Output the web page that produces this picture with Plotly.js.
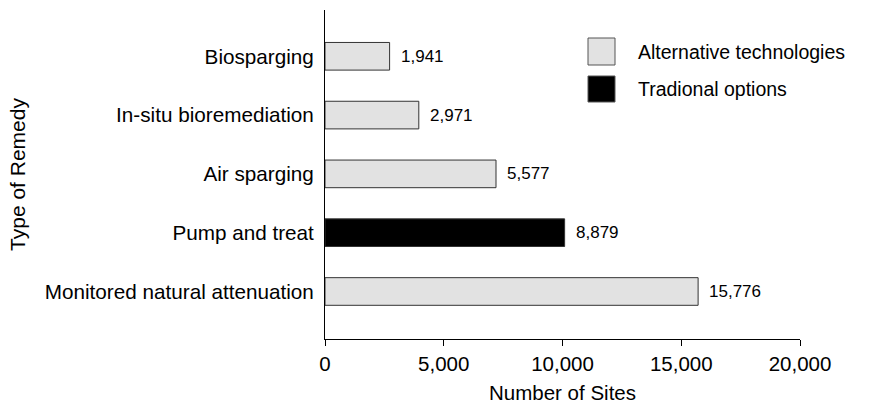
<!DOCTYPE html>
<html>
<head>
<meta charset="utf-8">
<script src="https://cdn.plot.ly/plotly-3.0.1.min.js"></script>
<style>
html,body{margin:0;padding:0;background:#fff;}
#chart{width:869px;height:404px;}
</style>
</head>
<body>
<div id="chart"></div>
<script>
// Categories, top to bottom as drawn
var remedies = ["Biosparging", "In-situ bioremediation", "Air sparging", "Pump and treat", "Monitored natural attenuation"];
// Bar lengths as drawn against the axis
var barLengths = [2720, 3950, 7200, 10090, 15710];
// Printed value labels
var valueLabels = ["1,941", "2,971", "5,577", "8,879", "15,776"];
// Group of each remedy
var groups = ["Alternative technologies", "Alternative technologies", "Alternative technologies", "Tradional options", "Alternative technologies"];
var groupNames = ["Alternative technologies", "Tradional options"];
var groupColors = {"Alternative technologies": "#e2e2e2", "Tradional options": "#000000"};
var xTicks = [0, 5000, 10000, 15000, 20000];
var xTickText = ["0", "5,000", "10,000", "15,000", "20,000"];

var FONT = "Liberation Sans, Arial, Helvetica, sans-serif";

var trace = {
  type: "bar",
  orientation: "h",
  x: barLengths,
  y: remedies,
  width: 0.47,
  marker: {
    color: groups.map(function(g){ return groupColors[g]; }),
    line: {color: "#333333", width: 1}
  },
  hoverinfo: "none",
  showlegend: false
};

var annotations = remedies.map(function(r, i){
  return {
    x: barLengths[i], y: r, xref: "x", yref: "y",
    text: valueLabels[i], showarrow: false,
    xanchor: "left", yanchor: "middle", xshift: 9,
    font: {family: FONT, size: 17, color: "#000"}
  };
});

// Legend drawn as boxes + text
var plotL = 325, plotR = 800, plotT = 10, plotB = 339;
function px2x(p){ return (p - plotL) / (plotR - plotL); }
function py2y(p){ return (plotB - p) / (plotB - plotT); }
var legendBoxes = [[38, 65], [76, 102]];
var shapes = [];
groupNames.forEach(function(g, i){
  shapes.push({
    type: "rect", xref: "paper", yref: "paper",
    x0: px2x(588), x1: px2x(615), y0: py2y(legendBoxes[i][1]), y1: py2y(legendBoxes[i][0]),
    fillcolor: groupColors[g], line: {color: "#555", width: 1}
  });
  annotations.push({
    xref: "paper", yref: "paper", x: px2x(636), y: py2y((legendBoxes[i][0] + legendBoxes[i][1]) / 2),
    text: g, showarrow: false, xanchor: "left", yanchor: "middle",
    font: {family: FONT, size: 19.5, color: "#000"}
  });
});

var layout = {
  width: 869, height: 404,
  margin: {l: plotL, r: 869 - plotR, t: plotT, b: 404 - plotB},
  paper_bgcolor: "#fff", plot_bgcolor: "#fff",
  font: {family: FONT, size: 20, color: "#000"},
  bargap: 0.5,
  xaxis: {
    range: [0, 20000],
    tickvals: xTicks, ticktext: xTickText,
    ticks: "outside", ticklen: 6, tickwidth: 1, tickcolor: "#000",
    showline: true, linecolor: "#000", linewidth: 1,
    showgrid: false, zeroline: false,
    tickfont: {family: FONT, size: 20.5, color: "#000"},
    title: {text: "Number of Sites", font: {family: FONT, size: 20.5, color: "#000"}, standoff: 13}
  },
  yaxis: {
    type: "category",
    categoryorder: "array", categoryarray: remedies,
    range: [4.808, -0.787],
    showline: true, linecolor: "#000", linewidth: 1,
    ticks: "", showgrid: false, zeroline: false,
    ticklabelstandoff: 6,
    tickfont: {family: FONT, size: 20.7, color: "#000"},
    title: {text: "Type of Remedy", font: {family: FONT, size: 21, color: "#000"}, standoff: 13}
  },
  shapes: shapes,
  annotations: annotations,
  showlegend: false
};

Plotly.newPlot("chart", [trace], layout, {displayModeBar: false, staticPlot: true});
</script>
</body>
</html>
